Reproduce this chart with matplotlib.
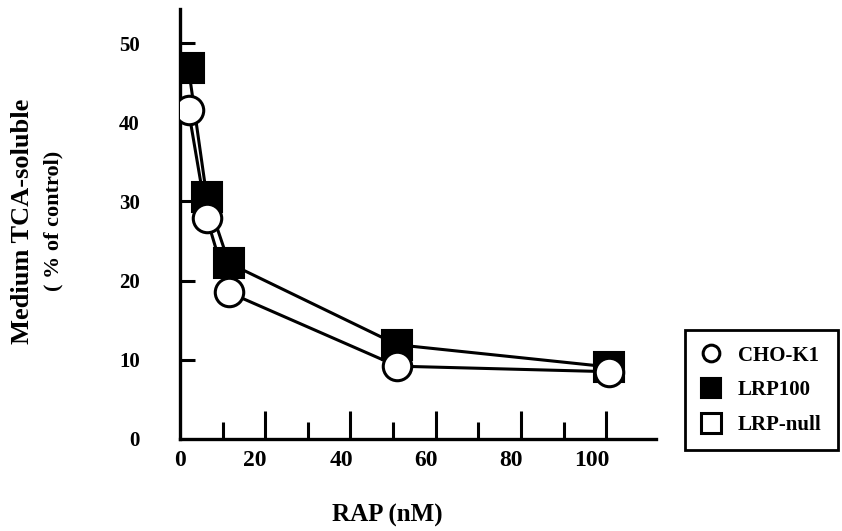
import matplotlib
matplotlib.use("Agg")
import matplotlib.pyplot as plt
import matplotlib.transforms as mtransforms
from matplotlib.lines import Line2D

plt.rcParams['font.family'] = ['Liberation Serif', 'DejaVu Serif']
plt.rcParams['font.weight'] = 'bold'

rap_nM = [2.0, 6.3, 11.5, 51.0, 100.7]
cho_k1 = [41.5, 27.9, 18.5, 9.2, 8.5]
lrp100 = [46.8, 30.5, 22.2, 11.9, 9.1]
series_names = ['CHO-K1', 'LRP100', 'LRP-null']
x_tick_labels = ['0', '20', '40', '60', '80', '100']
y_tick_labels = ['0', '10', '20', '30', '40', '50']

W, H = 842, 531
fig = plt.figure(figsize=(W / 100, H / 100), dpi=100)
# axes box in pixels: left 180, right 656, bottom 439, top 9
ax = fig.add_axes([180 / W, (H - 439) / H, 476 / W, 430 / H])

ax.plot(rap_nM, lrp100, color='black', lw=2.2, marker='s', ms=22,
        mfc='black', mec='black', mew=1.5, zorder=3)
ax.plot(rap_nM, cho_k1, color='black', lw=2.2, marker='o', ms=20.5,
        mfc='white', mec='black', mew=2.2, zorder=4)

ax.set_xlim(0.5, 111.7)
ax.set_ylim(0, 54.3)
for s in ['top', 'right']:
    ax.spines[s].set_visible(False)
for s in ['left', 'bottom']:
    ax.spines[s].set_linewidth(2.4)

ax.set_xticks([0, 20, 40, 60, 80, 100])
ax.set_xticklabels(x_tick_labels)
ax.set_xticks([10, 30, 50, 70, 90], minor=True)
ax.set_yticks([0, 10, 20, 30, 40, 50])
ax.set_yticklabels(y_tick_labels)
ax.tick_params(axis='x', which='major', direction='in', length=20, width=2.2, pad=8, labelsize=17)
ax.tick_params(axis='x', which='minor', direction='in', length=12, width=2.2)
ax.tick_params(axis='y', which='major', direction='in', length=11, width=2.2, pad=29, labelsize=15)
ax.xaxis.get_major_ticks()[0].tick1line.set_visible(False)
ax.yaxis.get_major_ticks()[0].tick1line.set_visible(False)
for lab in ax.get_xticklabels() + ax.get_yticklabels():
    lab.set_fontweight('bold')
# tick labels in the original sit a little left of their ticks
shifts = [0, -10, -9, -10, -10, -14]
for lab, dx in zip(ax.get_xticklabels(), shifts):
    lab.set_transform(lab.get_transform() + mtransforms.ScaledTranslation(dx / 100, 0, fig.dpi_scale_trans))

fig.text(387 / W, 1 - 522 / H, 'RAP (nM)', fontsize=18, fontweight='bold',
         ha='center', va='baseline')
fig.text(23 / W, 1 - 221 / H, 'Medium TCA-soluble', rotation=90, fontsize=19,
         fontweight='bold', ha='center', va='center')
fig.text(53 / W, 1 - 221 / H, '( % of control)', rotation=90, fontsize=16,
         fontweight='bold', ha='center', va='center')

handles = [
    Line2D([], [], ls='none', marker='o', ms=12, mfc='white', mec='black', mew=2.2),
    Line2D([], [], ls='none', marker='s', ms=15, mfc='black', mec='black', mew=1.5),
    Line2D([], [], ls='none', marker='s', ms=14, mfc='white', mec='black', mew=2.2),
]
leg = fig.legend(handles, series_names, loc='upper left',
                 bbox_to_anchor=(685 / W, 1 - 330 / H), borderaxespad=0,
                 frameon=True, fancybox=False, edgecolor='black', framealpha=1,
                 prop={'family': 'Liberation Serif', 'weight': 'bold', 'size': 15},
                 handlelength=1.0, handletextpad=0.8, labelspacing=0.7,
                 borderpad=0.75)
leg.get_frame().set_linewidth(2)

fig.savefig('out.png', dpi=100)
